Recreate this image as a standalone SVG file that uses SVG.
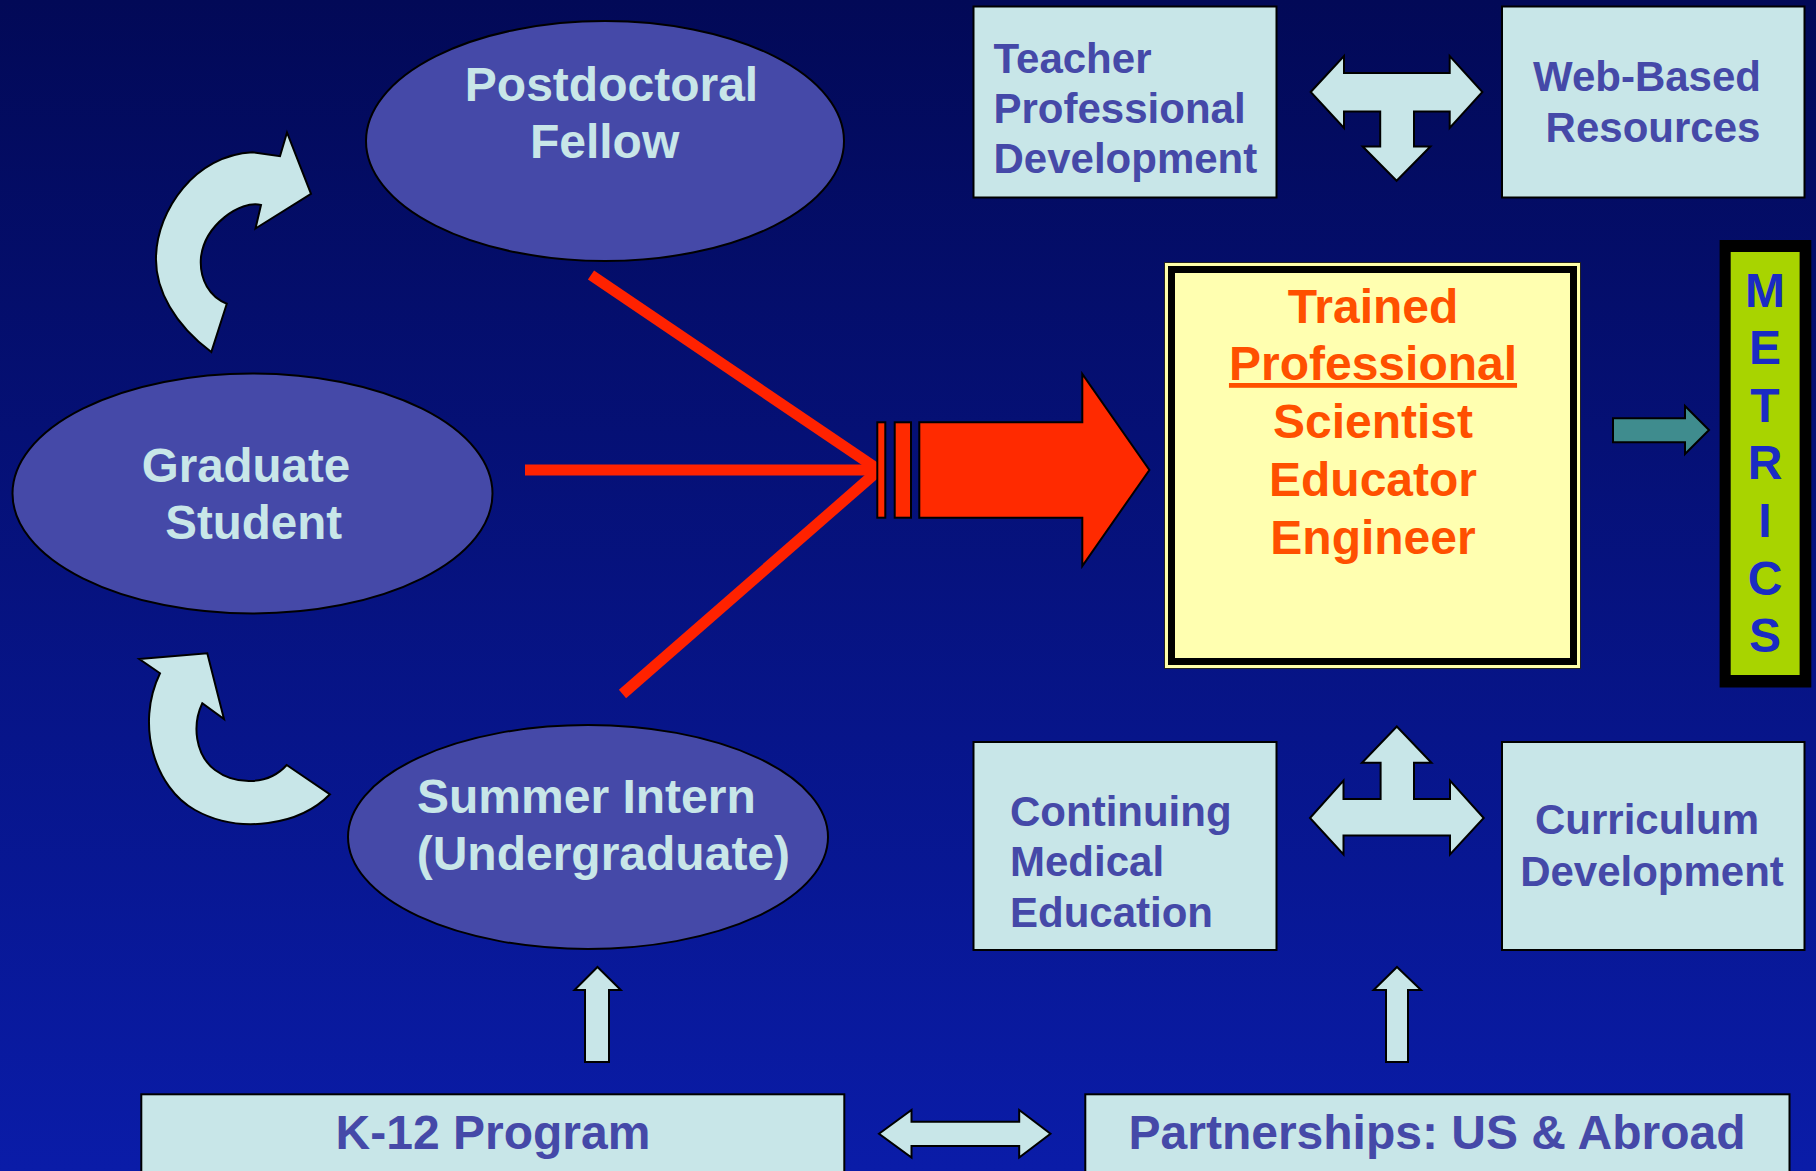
<svg xmlns="http://www.w3.org/2000/svg" width="1816" height="1171" viewBox="0 0 1816 1171">
<defs>
<linearGradient id="bg" x1="0" y1="0" x2="0" y2="1">
<stop offset="0" stop-color="#020957"/>
<stop offset="1" stop-color="#0a1ca8"/>
</linearGradient>
<style>
text{font-family:"Liberation Sans",Arial,sans-serif;font-weight:bold}
.ell{fill:#4549a8;stroke:#000;stroke-width:2}
.et{fill:#c8e6e8;font-size:48px}
.box{fill:#c8e6e8;stroke:#000;stroke-width:2}
.bt{fill:#4549a8;font-size:42px}
.bt2{fill:#4549a8;font-size:48px;text-anchor:middle}
.arr{fill:#c8e6e8;stroke:#000;stroke-width:2;stroke-linejoin:miter}
.red{stroke:#ff2200;stroke-width:11;fill:none}
.redf{fill:#ff2a00;stroke:#000;stroke-width:2}
.tt{fill:#ff5000;font-size:48px;text-anchor:middle}
.mt{fill:#1a2bc4;font-size:48px;text-anchor:middle}
</style>
</defs>
<rect x="0" y="0" width="1816" height="1171" fill="url(#bg)"/>

<g id="connectors">
<line class="red" x1="591" y1="275" x2="879" y2="470"/>
<line class="red" x1="525" y1="470" x2="879" y2="470"/>
<line class="red" x1="622.5" y1="694" x2="879" y2="470"/>
<rect class="redf" x="877.3" y="422.3" width="8" height="95.4"/>
<rect class="redf" x="894.7" y="422.3" width="16.3" height="95.4"/>
<polygon class="redf" points="919.3,422.3 1082.3,422.3 1082.3,374 1149.4,470 1082.3,566 1082.3,517.7 919.3,517.7"/>
<path class="arr" d="M211.3,352 C175,325 155,290 156,257 C157,210 195,155 252.6,152.2 L280,156.2 L287,132.5 L311,193.8 L255.5,228.5 L261,205 C240,200 205,225 201,257 C199,280 210,297 226.8,303.7 Z"/>
<path class="arr" d="M139.3,659 L207.3,653.3 L224,719 L202.3,703.3 C192,725 195,755 215,770 C235,785 268,786 286.7,765 L330,794.3 C300,825 240,835 195,810 C155,788 135,725 160,673.3 Z"/>
<polygon class="arr" points="1310.7,92 1344,56 1344,73 1449.7,73 1449.7,56 1482.4,92 1449.7,128 1449.7,111.6 1414,111.6 1414,146.4 1430.4,146.4 1396.6,180.8 1362.7,146.4 1380.2,146.4 1380.2,111.6 1344,111.6 1344,128"/>
<polygon class="arr" points="1310,818 1343.5,780.6 1343.5,799 1380.6,799 1380.6,762.7 1362,762.7 1396.8,726.5 1431.5,762.7 1414,762.7 1414,799 1450,799 1450,780.6 1483.7,818 1450,854.4 1450,835.4 1343.5,835.4 1343.5,854.4"/>
<polygon class="arr" points="879,1133.7 911.5,1110 911.5,1121.8 1019.2,1121.8 1019.2,1110 1050.5,1133.7 1019.2,1157.6 1019.2,1146 911.5,1146 911.5,1157.6"/>
<polygon class="arr" points="597.5,967 620.8,990 609,990 609,1062 585,1062 585,990 574.5,990"/>
<polygon class="arr" points="1397,967 1421,990 1408,990 1408,1062 1386,1062 1386,990 1373.6,990"/>
<polygon points="1613,418.3 1685,418.3 1685,406 1709,430 1685,454 1685,442.3 1613,442.3" fill="#3f8c8e" stroke="#000" stroke-width="2"/>
</g>

<g id="postdoc">
<ellipse class="ell" cx="605" cy="141" rx="239" ry="120"/>
<text class="et" x="611.5" y="101" text-anchor="middle">Postdoctoral</text>
<text class="et" x="604.6" y="158" text-anchor="middle">Fellow</text>
</g>
<g id="graduate">
<ellipse class="ell" cx="252.5" cy="493.5" rx="240" ry="120"/>
<text class="et" x="246" y="481.6" text-anchor="middle" style="font-size:47.5px">Graduate</text>
<text class="et" x="253.6" y="538.6" text-anchor="middle" style="font-size:47.5px">Student</text>
</g>
<g id="intern">
<ellipse class="ell" cx="588" cy="837" rx="240" ry="112"/>
<text class="et" x="417" y="812.7">Summer Intern</text>
<text class="et" x="416.7" y="870">(Undergraduate)</text>
</g>

<g id="teacher">
<rect class="box" x="973.5" y="6.5" width="303" height="191"/>
<text class="bt" x="993.5" y="72.8">Teacher</text>
<text class="bt" x="993.5" y="122.8">Professional</text>
<text class="bt" x="993.5" y="173.2">Development</text>
</g>
<g id="web">
<rect class="box" x="1502" y="6.5" width="302.5" height="191"/>
<text class="bt" x="1647" y="90.6" text-anchor="middle">Web-Based</text>
<text class="bt" x="1653" y="142" text-anchor="middle">Resources</text>
</g>
<g id="trained">
<rect x="1164.5" y="262.5" width="416" height="406" fill="#ffffaa" stroke="#222" stroke-width="1"/>
<rect x="1171.5" y="269.5" width="402" height="392" fill="#ffffb0" stroke="#000" stroke-width="7"/>
<text class="tt" x="1373" y="322.5">Trained</text>
<text class="tt" x="1373" y="380" text-decoration="underline">Professional</text>
<text class="tt" x="1373" y="437.5">Scientist</text>
<text class="tt" x="1373" y="495.5">Educator</text>
<text class="tt" x="1373" y="553.5">Engineer</text>
</g>
<g id="metrics">
<rect x="1719.6" y="240" width="91.7" height="447.5" fill="#000"/>
<rect x="1730.7" y="252" width="68.9" height="423" fill="#a8d400"/>
<text class="mt" x="1765" y="307">M</text>
<text class="mt" x="1765" y="364">E</text>
<text class="mt" x="1765" y="422">T</text>
<text class="mt" x="1765" y="479">R</text>
<text class="mt" x="1765" y="537">I</text>
<text class="mt" x="1765" y="595">C</text>
<text class="mt" x="1765" y="652">S</text>
</g>
<g id="continuing">
<rect class="box" x="973.5" y="742" width="303" height="208"/>
<text class="bt" x="1010" y="825.5">Continuing</text>
<text class="bt" x="1010" y="875.8">Medical</text>
<text class="bt" x="1010" y="926.7">Education</text>
</g>
<g id="curriculum">
<rect class="box" x="1502" y="742" width="302.5" height="208"/>
<text class="bt" x="1647" y="834" text-anchor="middle">Curriculum</text>
<text class="bt" x="1652" y="886" text-anchor="middle">Development</text>
</g>
<g id="k12">
<rect class="box" x="141.3" y="1094.3" width="703" height="90"/>
<text class="bt2" x="493" y="1149">K-12 Program</text>
</g>
<g id="partnerships">
<rect class="box" x="1085.3" y="1094.3" width="704.2" height="90"/>
<text class="bt2" x="1437" y="1149">Partnerships: US &amp; Abroad</text>
</g>
</svg>
